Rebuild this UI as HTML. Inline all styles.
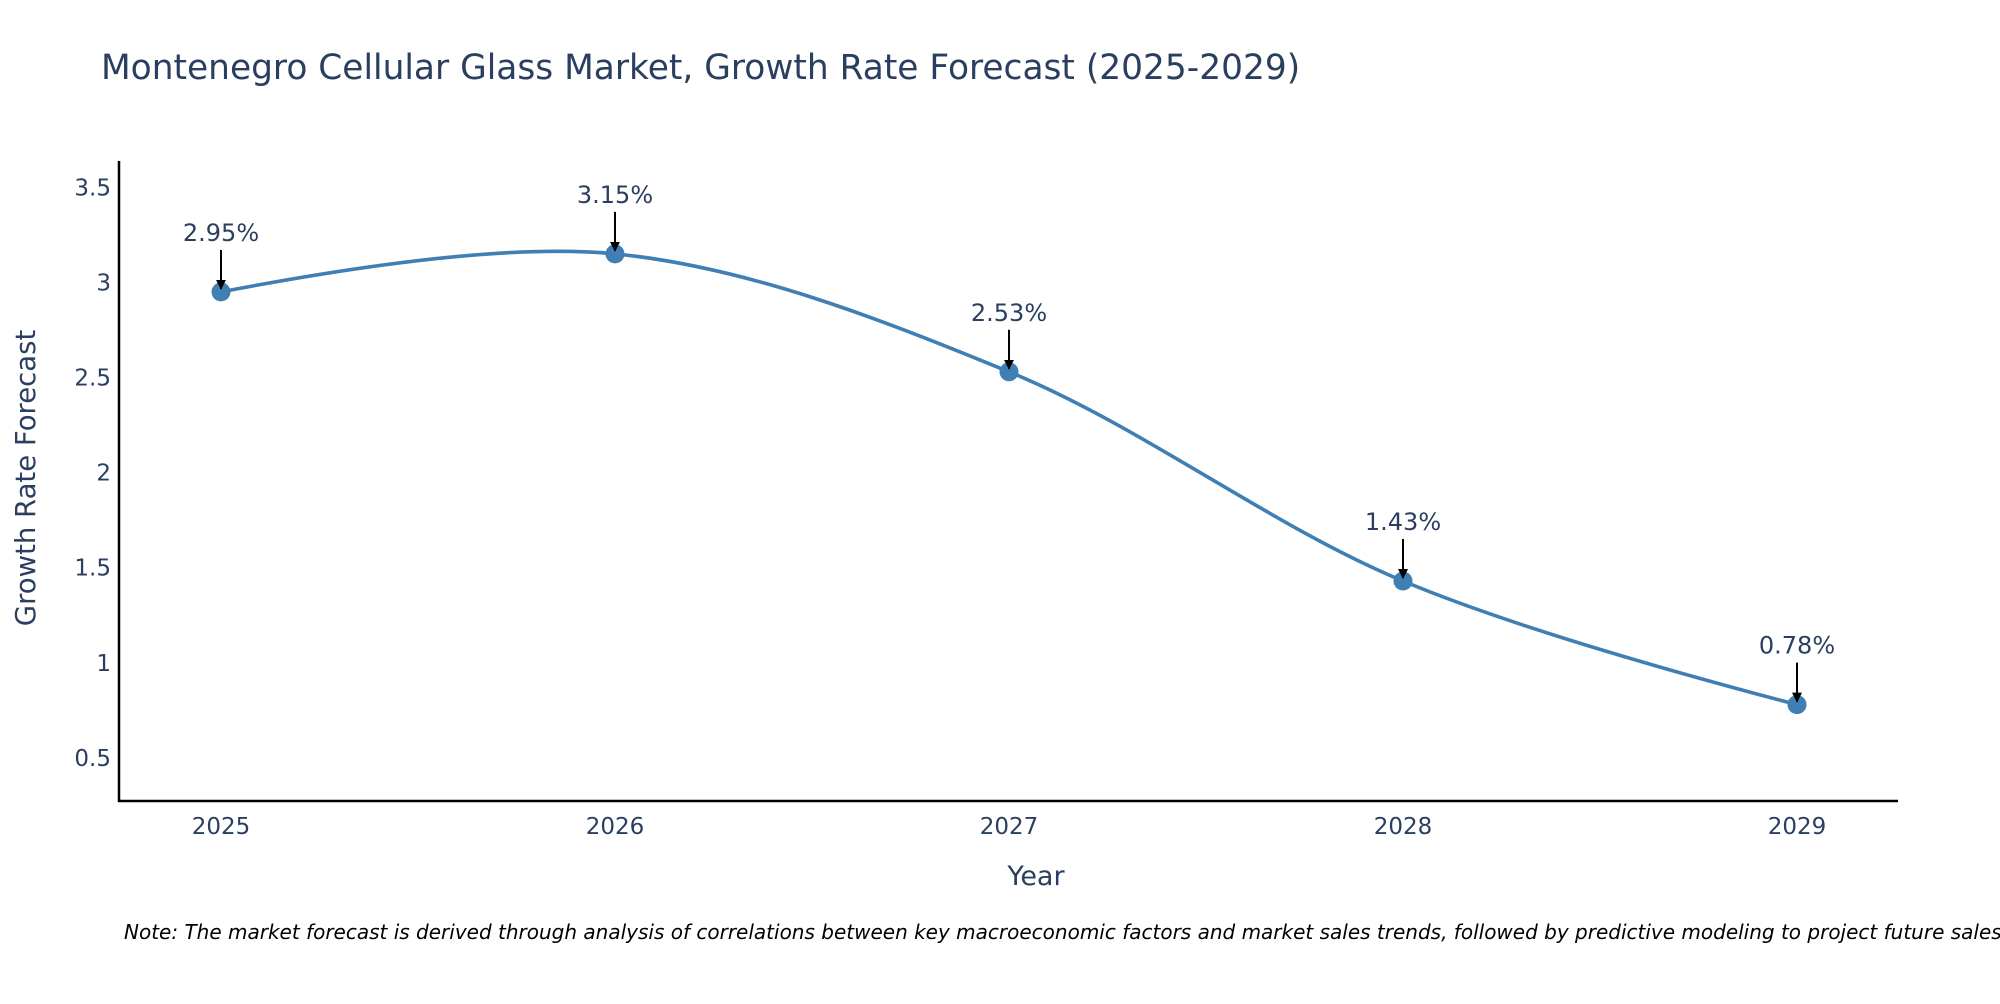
<!DOCTYPE html>
<html>
<head>
<meta charset="utf-8">
<style>
  html, body { margin: 0; padding: 0; background: #fff; }
  body { width: 2000px; height: 1000px; overflow: hidden; font-family: "DejaVu Sans", "Liberation Sans", sans-serif; }
  svg text { font-family: "DejaVu Sans", "Liberation Sans", sans-serif; fill: #2a3f5f; }
</style>
</head>
<body>
<svg id="chart" width="2000" height="1000" viewBox="0 0 2000 1000" xmlns="http://www.w3.org/2000/svg">
  <defs>
    <marker id="arrowhead" viewBox="0 0 10 10" refX="9" refY="5" markerWidth="5" markerHeight="5" orient="auto">
      <path d="M0,0 L10,5 L0,10 z" fill="#000"/>
    </marker>
  </defs>
  <text x="101" y="79" font-size="34.4">Montenegro Cellular Glass Market, Growth Rate Forecast (2025-2029)</text>
  <g id="plot"></g>
  <text x="1036" y="885" font-size="27" text-anchor="middle">Year</text>
  <text transform="translate(35,478) rotate(-90)" font-size="27.5" text-anchor="middle">Growth Rate Forecast</text>
  <text x="124" y="939" font-size="20" font-style="italic" style="fill:#000">Note: The market forecast is derived through analysis of correlations between key macroeconomic factors and market sales trends, followed by predictive modeling to project future sales.</text>
</svg>
<script>
const years = ["2025", "2026", "2027", "2028", "2029"];
const growthValues = [2.95, 3.15, 2.53, 1.43, 0.78];
const valueLabels = ["2.95%", "3.15%", "2.53%", "1.43%", "0.78%"];
const yTicks = [0.5, 1, 1.5, 2, 2.5, 3, 3.5];
const yTickLabels = ["0.5", "1", "1.5", "2", "2.5", "3", "3.5"];

const NS = "http://www.w3.org/2000/svg";
const plot = document.getElementById("plot");
const X0 = 221, XSTEP = (1797 - 221) / 4;
const Y_ZERO = 853, Y_PER = 190.2;
function xScale(i) { return X0 + i * XSTEP; }
function yScale(v) { return Y_ZERO - v * Y_PER; }
function mk(tag, attrs) {
  const e = document.createElementNS(NS, tag);
  for (const k in attrs) e.setAttribute(k, attrs[k]);
  plot.appendChild(e);
  return e;
}

let ax = mk("line", { x1: 119, y1: 161, x2: 119, y2: 802, stroke: "#000", "stroke-width": 2.5 });


ax = mk("line", { x1: 118, y1: 801, x2: 1898, y2: 801, stroke: "#000", "stroke-width": 2.5 });



yTicks.forEach((v, i) => {
  const t = mk("text", { x: 111, y: yScale(v) + 8, "font-size": 23, "text-anchor": "end" });
  t.textContent = yTickLabels[i];
  
  
});
years.forEach((y, i) => {
  const t = mk("text", { x: xScale(i), y: 834, "font-size": 23, "text-anchor": "middle" });
  t.textContent = y;
  
  
});

const pts = growthValues.map((v, i) => [xScale(i), yScale(v)]);
function makeTangent(p, t, n, s) {
  const d1x = p[0] - t[0], d1y = p[1] - t[1], d2x = n[0] - t[0], d2y = n[1] - t[1];
  const d1a = Math.pow(d1x * d1x + d1y * d1y, 0.25), d2a = Math.pow(d2x * d2x + d2y * d2y, 0.25);
  const numx = (d2a * d2a * d1x - d1a * d1a * d2x) * s, numy = (d2a * d2a * d1y - d1a * d1a * d2y) * s;
  const den1 = 3 * d2a * (d1a + d2a), den2 = 3 * d1a * (d1a + d2a);
  return [[t[0] + numx / den1, t[1] + numy / den1], [t[0] - numx / den2, t[1] - numy / den2]];
}
const tg = [];
for (let i = 1; i < pts.length - 1; i++) tg.push(makeTangent(pts[i - 1], pts[i], pts[i + 1], 1));
let d = "M" + pts[0] + "Q" + tg[0][0] + " " + pts[1];
for (let i = 2; i < pts.length - 1; i++) d += "C" + tg[i - 2][1] + " " + tg[i - 1][0] + " " + pts[i];
d += "Q" + tg[pts.length - 3][1] + " " + pts[pts.length - 1];
const line = mk("path", { d: d, fill: "none", stroke: "#3f7fb3", "stroke-width": 3.6 });



growthValues.forEach((v, i) => {
  const cx = xScale(i), cy = yScale(v);
  const c = mk("circle", { cx: cx, cy: cy, r: 9.5, fill: "#3f7fb3" });
  
  
  const a = mk("line", { x1: cx, y1: cy - 42, x2: cx, y2: cy - 3, stroke: "#000", "stroke-width": 2, "marker-end": "url(#arrowhead)" });
  
  
  const t = mk("text", { x: cx, y: cy - 51, "font-size": 24, "text-anchor": "middle" });
  t.textContent = valueLabels[i];
  
  
});
</script>
</body>
</html>
